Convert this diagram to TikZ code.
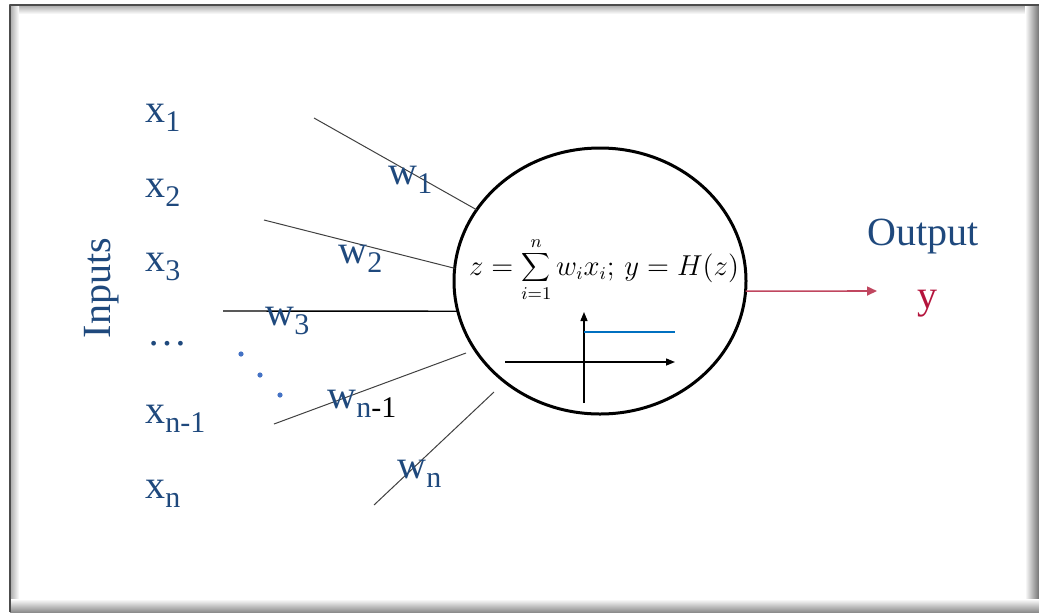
\documentclass[tikz,border=0pt]{standalone}
\usepackage{fontspec}
\setmainfont{Liberation Serif}
\usetikzlibrary{shapes.geometric,arrows.meta}

\definecolor{inkblue}{RGB}{31,73,125}
\definecolor{dotblue}{RGB}{68,114,196}
\definecolor{stepblue}{RGB}{0,112,192}
\definecolor{outred}{RGB}{192,70,95}
\definecolor{yred}{RGB}{180,20,60}

% lowered subscript, the way the slide sets it
\newcommand\lo[1]{\raisebox{-4.5pt}{\fontsize{15}{15}\selectfont #1}}

\begin{document}
\begin{tikzpicture}[
  x=0.5pt, y=-0.5pt,
  line join=round,
  lbl/.style={font=\fontsize{20}{24}\selectfont, text=inkblue, inner sep=0pt},
  wire/.style={line width=0.5pt, draw=black!75},
  neuron/.style={ellipse, draw, line width=1.5pt, inner sep=0pt, outer sep=0pt,
                 minimum width=146pt, minimum height=133pt},
  axis/.style={line width=0.7pt, -{Triangle[length=4.5pt,width=3.5pt]}},
]
\useasboundingbox (0,0) rectangle (1039,612);

% ── the frame ─────────────────────────────────────────────────────────────
\shade[top color=black!30, bottom color=white] (11,6) rectangle (1027,14);
\shade[left color=black!30, right color=white] (11,6) rectangle (19,600);
\shade[left color=white, right color=black!55] (1025,5) rectangle (1039,612);
\shade[top color=white, bottom color=black!45] (10,599) rectangle (1039,612);
\draw[line width=1.2pt, black!70] (10,612) -- (10,5) -- (1039,5);

% ── the neuron ────────────────────────────────────────────────────────────
\node[neuron] (neuron) at (600,281) {};
\node[inner sep=0pt, anchor=base] (formula) at (604,275)
  {\fontsize{13.5}{16}\selectfont $\displaystyle z=\sum_{i=1}^{n} w_i x_i;\, y=H(z)$};

% the step function
\coordinate (hx0) at (505,362);
\coordinate (hx1) at (675,362);
\coordinate (vy0) at (584,403);
\coordinate (vy1) at (584,312);
\draw[axis] (hx0) -- (hx1);
\draw[axis] (vy0) -- (vy1);
\draw[stepblue, line width=0.6pt] (584,332) -- (675,332);

% ── the inputs ────────────────────────────────────────────────────────────
\node[lbl, rotate=90, anchor=base] (inputs) at (110,288) {Inputs};
\foreach \name/\base/\sub in {x1/122/1, x2/197/2, x3/271/3, xn1/423/{n-1}, xn/498/n}
  { \node[lbl, anchor=base west] (\name) at (145,\base) {x\lo{\sub}}; }
\node[lbl, anchor=base west] (xdots) at (147,345) {\ldots};
\foreach \i/\x/\y in {1/241/354, 2/260/375, 3/280/395}
  { \fill[dotblue] (\x,\y) circle (1.3pt) coordinate (dot\i); }

% ── the weighted lines ────────────────────────────────────────────────────
\coordinate (in1) at (314,118);
\coordinate (in2) at (264,220);
\coordinate (in3) at (223,311);
\coordinate (in4) at (274,424);
\coordinate (in4e) at (466,353);
\coordinate (in5) at (374,505);
\coordinate (in5e) at (494,392);
\draw[wire] (in1) -- (neuron.150);
\draw[wire] (in2) -- (neuron.175);
\draw[wire, draw=black, line width=0.7pt] (in3) -- (neuron.192);
\draw[wire] (in4) -- (in4e);
\draw[wire] (in5) -- (in5e);

\foreach \name/\x/\y/\sub in {w1/388/184/1, w2/338/263/2, w3/265/325/3, wn/397/478/n}
  { \node[lbl, anchor=base west] (\name) at (\x,\y) {w\lo{\sub}}; }
\node[lbl, anchor=base west] (wn1) at (327,408) {w\lo{n\textcolor{black}{-1}}};

% ── the output ────────────────────────────────────────────────────────────
\node[lbl, anchor=base west] (output) at (867,245) {Output};
\node[lbl, text=yred, anchor=base west] (y) at (917,308) {y};
\coordinate (outEnd) at (877,291);
\draw[outred, line width=0.8pt, -{Triangle[length=5pt,width=4.5pt]}] (neuron.-4) -- (outEnd);

\end{tikzpicture}
\end{document}
